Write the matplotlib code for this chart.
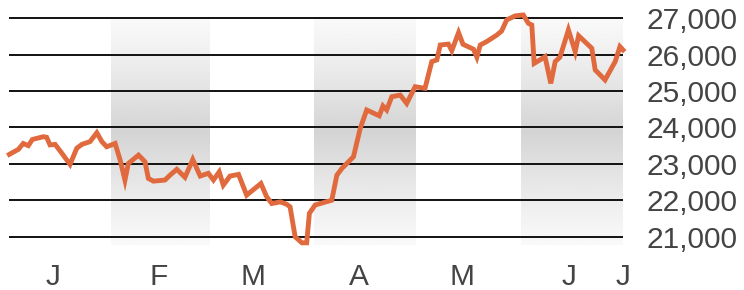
import numpy as np
import matplotlib
matplotlib.use("Agg")
import matplotlib.pyplot as plt

# ---- data (day offset from Jan 1, index value) ----
days = [1.0, 3.7, 5.1, 6.6, 7.8, 11.0, 12.0, 13.0, 14.5, 16.5, 18.9, 20.9, 22.4,
        24.8, 26.8, 28.3, 29.7, 32.2, 33.7, 35.1, 36.1, 39.1, 41.0, 42.0, 43.5,
        46.9, 48.4, 50.4, 52.8, 55.1, 57.3, 59.7, 61.2, 62.9, 64.1, 66.1, 68.6,
        71.0, 75.2, 76.9, 78.4, 80.9, 82.8, 83.8, 85.3, 87.3, 88.7, 89.5, 91.2,
        96.1, 97.6, 99.1, 102.5, 104.5, 106.4, 110.1, 111.2, 112.3, 113.8, 116.3,
        118.2, 120.7, 123.6, 125.6, 127.1, 128.1, 130.5, 131.5, 133.5, 134.8,
        137.9, 138.9, 139.9, 141.8, 144.8, 146.2, 147.7, 150.2, 152.6, 154.1,
        155.1, 155.8, 157.5, 159.0, 160.7, 162.0, 163.4, 165.9, 167.9, 168.9,
        172.8, 173.8, 176.7, 179.7, 181.1, 182.0]
values = [23260, 23400, 23560, 23500, 23670, 23745, 23730, 23520, 23535, 23290,
          22985, 23430, 23535, 23610, 23855, 23610, 23470, 23560, 23100, 22550,
          23010, 23240, 23060, 22600, 22525, 22555, 22690, 22850, 22630, 23120,
          22665, 22740, 22555, 22780, 22415, 22665, 22710, 22140, 22460, 22095,
          21910, 21955, 21890, 21820, 20995, 20830, 20830, 21640, 21870, 22000,
          22690, 22875, 23195, 23975, 24480, 24320, 24590, 24480, 24845, 24890,
          24660, 25120, 25075, 25810, 25855, 26265, 26290, 26110, 26605, 26285,
          26150, 25930, 26265, 26360, 26540, 26650, 26955, 27065, 27090, 26860,
          26815, 25760, 25855, 25945, 25210, 25810, 25930, 26680, 26080, 26520,
          26175, 25580, 25305, 25810, 26220, 26130]

month_labels = ["J", "F", "M", "A", "M", "J", "J"]
month_label_pos = [14, 45, 73, 104, 134.5, 166, 182]
band_start = [31, 91, 152]
band_end = [60, 121, 182]
y_ticks = [21000, 22000, 23000, 24000, 25000, 26000, 27000]

# ---- figure ----
plt.rcParams['font.family'] = ['Liberation Sans', 'DejaVu Sans']
fig = plt.figure(figsize=(7.44, 2.90), dpi=100)
H = 290.0
ax = fig.add_axes([9 / 744, 1 - 251.2 / H, 614 / 744, 247.5 / H])

# gradient bands
t = np.linspace(0, 1, 256)
shade = 1 - np.abs(t - 0.5) * 2
grad = (0.975 - 0.145 * shade ** 1.2)[:, None]
for s, e in zip(band_start, band_end):
    ax.imshow(np.repeat(grad, 2, axis=1), cmap='gray', vmin=0, vmax=1,
              extent=[s, e, 20770, 27000], aspect='auto', zorder=0,
              interpolation='bilinear')

ax.set_xlim(0.9, 182)
ax.set_ylim(20600, 27400)

for yv in y_ticks:
    ax.axhline(yv, color='#111111', lw=1.4, zorder=1)

ax.plot(days, values, color='#e06a3d', lw=3.5, zorder=3, clip_on=False,
        solid_joinstyle='miter')

for sp in ax.spines.values():
    sp.set_visible(False)

ax.yaxis.tick_right()
ax.set_yticks(y_ticks)
ax.set_yticklabels([f"{v:,}" for v in y_ticks])
ax.tick_params(axis='y', length=0, pad=17.0, labelsize=21.5, labelcolor='#444444')
ax.set_xticks(month_label_pos)
ax.set_xticklabels(month_labels)
ax.tick_params(axis='x', length=0, pad=8.5, labelsize=21.5, labelcolor='#444444')

fig.savefig("out.png", dpi=100)
